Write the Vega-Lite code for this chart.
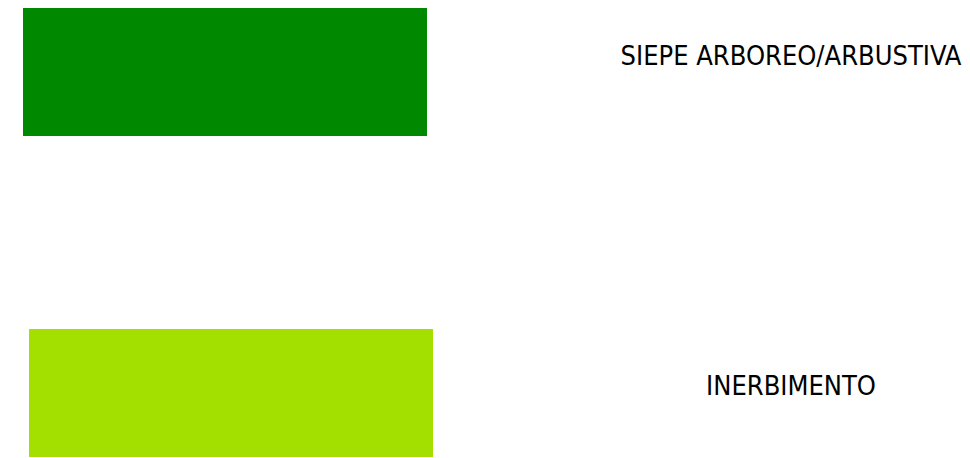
{
  "$schema": "https://vega.github.io/schema/vega-lite/v6.json",
  "autosize": {"type": "fit", "contains": "padding"},
  "width": 970,
  "height": 458,
  "padding": 0,
  "background": "white",
  "config": {"view": {"stroke": null}},
  "datasets": {
    "items": [
      {"label": "SIEPE ARBOREO/ARBUSTIVA", "x0": 23, "x1": 427, "y0": 8, "y1": 136, "tx": 791, "ty": 57},
      {"label": "INERBIMENTO", "x0": 29, "x1": 433, "y0": 329, "y1": 457, "tx": 791, "ty": 387}
    ]
  },
  "data": {"name": "items"},
  "layer": [
    {
      "mark": {"type": "rect"},
      "encoding": {
        "x": {"field": "x0", "type": "quantitative", "scale": {"domain": [0, 970], "nice": false, "zero": false}, "axis": null},
        "x2": {"field": "x1"},
        "y": {"field": "y0", "type": "quantitative", "scale": {"domain": [0, 458], "nice": false, "zero": false, "reverse": true}, "axis": null},
        "y2": {"field": "y1"},
        "color": {"field": "label", "type": "nominal", "scale": {"domain": ["SIEPE ARBOREO/ARBUSTIVA", "INERBIMENTO"], "range": ["#008800", "#a3e000"]}, "legend": null}
      }
    },
    {
      "mark": {"type": "text", "font": "DejaVu Sans Condensed", "fontSize": 27, "align": "center", "baseline": "middle", "color": "black"},
      "encoding": {
        "x": {"field": "tx", "type": "quantitative"},
        "y": {"field": "ty", "type": "quantitative"},
        "text": {"field": "label"}
      }
    }
  ]
}
